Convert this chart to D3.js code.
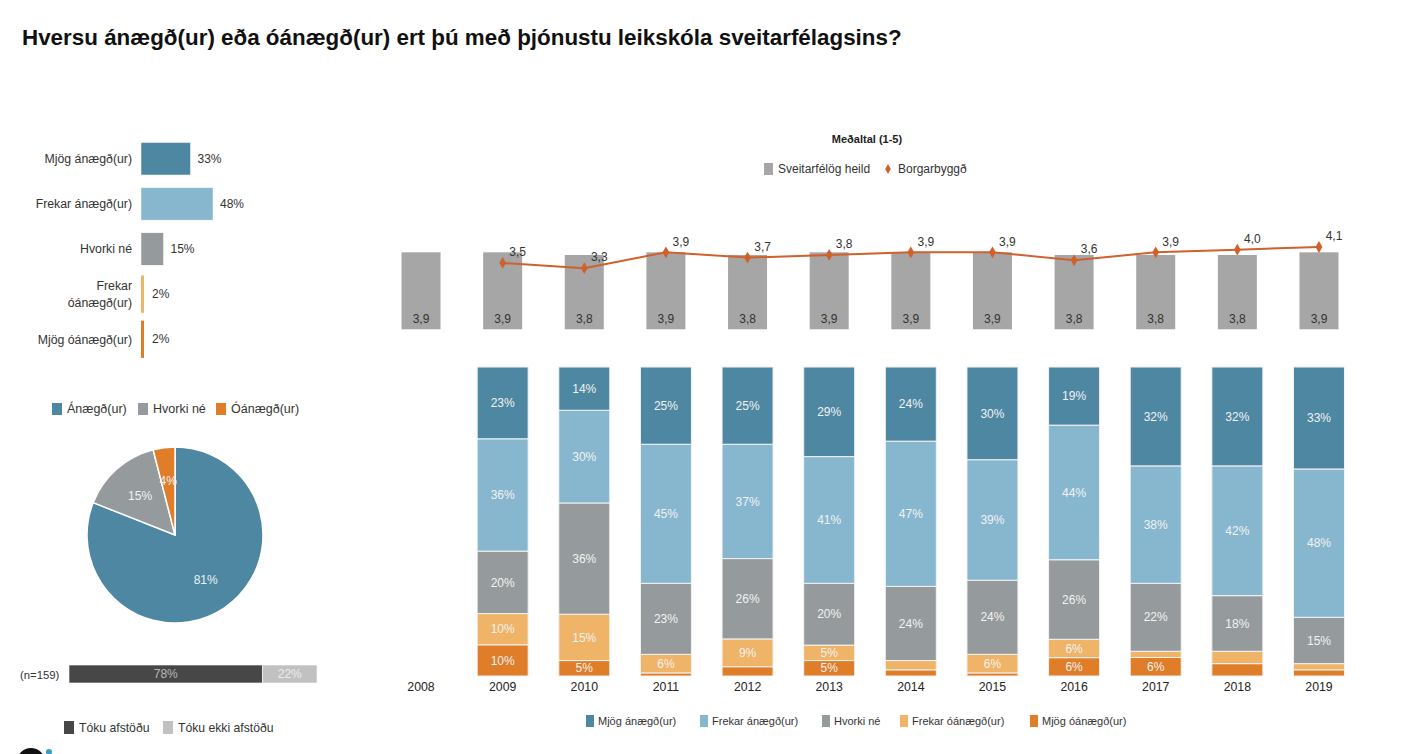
<!DOCTYPE html>
<html><head><meta charset="utf-8">
<script src="https://cdn.jsdelivr.net/npm/d3@7"></script>
<style>
body{margin:0;background:#fff;overflow:hidden;}
svg{display:block;font-family:"Liberation Sans",Arial,sans-serif;}
</style></head>
<body><svg id="c" width="1412" height="754"></svg>
<script>
// ---------- DATA ----------
const titleText = "Hversu ánægð(ur) eða óánægð(ur) ert þú með þjónustu leikskóla sveitarfélagsins?";

const catLabels = [["Mjög ánægð(ur)"],["Frekar ánægð(ur)"],["Hvorki né"],["Frekar","óánægð(ur)"],["Mjög óánægð(ur)"]];
const catValues = [33,48,15,2,2];

const pieLabels = ["Ánægð(ur)","Hvorki né","Óánægð(ur)"];
const pieValues = [81,15,4];

const respLabels = ["Tóku afstöðu","Tóku ekki afstöðu"];
const respValues = [78,22];
const nText = "(n=159)";

const years = ["2008","2009","2010","2011","2012","2013","2014","2015","2016","2017","2018","2019"];
const meanAll  = [3.9,3.9,3.8,3.9,3.8,3.9,3.9,3.9,3.8,3.8,3.8,3.9];
const meanBorg = [null,3.5,3.3,3.9,3.7,3.8,3.9,3.9,3.6,3.9,4.0,4.1];
const meanLegend = ["Sveitarfélög heild","Borgarbyggð"];

const stackYears = ["2009","2010","2011","2012","2013","2014","2015","2016","2017","2018","2019"];
const seriesNames = ["Mjög ánægð(ur)","Frekar ánægð(ur)","Hvorki né","Frekar óánægð(ur)","Mjög óánægð(ur)"];
const mjogAnaegd    = [23,14,25,25,29,24,30,19,32,32,33];
const frekarAnaegd  = [36,30,45,37,41,47,39,44,38,42,48];
const hvorkiNe      = [20,36,23,26,20,24,24,26,22,18,15];
const frekarOanaegd = [10,15,6,9,5,3,6,6,2,4,2];
const mjogOanaegd   = [10,5,1,3,5,2,1,6,6,4,2];

// ---------- STYLE ----------
const cDarkBlue="#4d87a2", cLightBlue="#86b7ce", cGray="#959b9c", cLightOr="#efb467", cDarkOr="#e07d28";
const catColors=[cDarkBlue,cLightBlue,cGray,cLightOr,cDarkOr];
const svg=d3.select("#c");

svg.append("text").attr("x",22).attr("y",45).attr("font-size",22.4).attr("font-weight","bold").attr("fill","#111").text(titleText);

// ---------- Top-left horizontal bars ----------
const xH=d3.scaleLinear().domain([0,100]).range([141,291]);
const yH=d3.scaleBand().domain(d3.range(5)).range([137,359]).paddingInner(0.28).paddingOuter(0.1);
const gH=svg.append("g");
catValues.forEach((v,i)=>{
  const bh = v<5 ? yH.bandwidth()*1.15 : yH.bandwidth();
  const yc=yH(i)+yH.bandwidth()/2+1;
  gH.append("rect").attr("x",xH(0)).attr("y",yc-bh/2).attr("width",Math.max(2,xH(v)-xH(0))).attr("height",bh)
    .attr("fill",catColors[i]).attr("stroke",v<5?"none":"#fff").attr("stroke-width",0.5);
  gH.append("text").attr("x",xH(v)+(v<5?8:7)).attr("y",yc).attr("dy","0.35em").attr("font-size",12).attr("fill","#333").text(v+"%");
  const lines=catLabels[i];
  lines.forEach((l,j)=>{
    gH.append("text").attr("x",132).attr("y",yc+(j-(lines.length-1)/2)*17).attr("dy","0.35em")
      .attr("text-anchor","end").attr("font-size",12.3).attr("fill","#333").text(l);
  });
});

// ---------- Pie ----------
const pieColors=[cDarkBlue,cGray,cDarkOr];
const pieLeg=svg.append("g");
const pieLegX=[52,138,216];
pieLabels.forEach((l,i)=>{
  pieLeg.append("rect").attr("x",pieLegX[i]).attr("y",403).attr("width",10).attr("height",12).attr("fill",pieColors[i]);
  pieLeg.append("text").attr("x",pieLegX[i]+15).attr("y",409).attr("dy","0.35em").attr("font-size",12.5).attr("fill","#333").text(l);
});
const pie=d3.pie().sort(null).value(d=>d)(pieValues);
const R=88;
const arc=d3.arc().innerRadius(0).outerRadius(R);
const gP=svg.append("g").attr("transform","translate(175,535)");
gP.selectAll("path").data(pie).join("path").attr("d",arc).attr("fill",(d,i)=>pieColors[i]).attr("stroke","#fff").attr("stroke-width",1.5);
const labArc=[d3.arc().innerRadius(R*0.62).outerRadius(R*0.62),d3.arc().innerRadius(R*0.6).outerRadius(R*0.6),d3.arc().innerRadius(R*0.62).outerRadius(R*0.62)];
gP.selectAll("text").data(pie).join("text").attr("transform",(d,i)=>`translate(${labArc[i].centroid(d)})`)
  .attr("text-anchor","middle").attr("dy","0.35em").attr("font-size",12).attr("fill","#eef2f4").text(d=>d.data+"%");

// ---------- Response bar ----------
const xR=d3.scaleLinear().domain([0,100]).range([69,317]);
const respColors=["#474747","#c1c1c1"];
let acc=0;
respValues.forEach((v,i)=>{
  svg.append("rect").attr("x",xR(acc)).attr("y",665).attr("width",xR(acc+v)-xR(acc)).attr("height",18).attr("fill",respColors[i]).attr("stroke","#fff").attr("stroke-width",0.6);
  svg.append("text").attr("x",(xR(acc)+xR(acc+v))/2).attr("y",674).attr("dy","0.35em").attr("text-anchor","middle").attr("font-size",12)
    .attr("fill",i===0?"#b8b8b8":"#ececec").text(v+"%");
  acc+=v;
});
svg.append("text").attr("x",20).attr("y",675).attr("dy","0.35em").attr("font-size",11.3).attr("fill","#333").text(nText);
const respLegX=[64,163];
respLabels.forEach((l,i)=>{
  svg.append("rect").attr("x",respLegX[i]).attr("y",721).attr("width",10).attr("height",13).attr("fill",respColors[i]);
  svg.append("text").attr("x",respLegX[i]+15).attr("y",728).attr("dy","0.35em").attr("font-size",12.2).attr("fill","#333").text(l);
});
// logo fragment
svg.append("path").attr("d",d3.arc().innerRadius(8).outerRadius(14).startAngle(-Math.PI/2).endAngle(Math.PI/2)()).attr("transform","translate(31,762)").attr("fill","#111");
svg.append("circle").attr("cx",49).attr("cy",752).attr("r",3).attr("fill","#3a9bc4");

// ---------- Top right: means ----------
const xS=d3.scaleBand().domain(years).range([380,1360]).paddingInner(0.375).paddingOuter(0.19);
const yM=d3.scaleLinear().domain([1,5]).range([329.3,223.1]);
svg.append("text").attr("x",867).attr("y",139).attr("dy","0.35em").attr("text-anchor","middle").attr("font-size",11).attr("font-weight","bold").attr("fill","#222").text("Meðaltal (1-5)");
svg.append("rect").attr("x",764).attr("y",163).attr("width",9).attr("height",12).attr("fill","#a6a6a6");
svg.append("text").attr("x",778).attr("y",169).attr("dy","0.35em").attr("font-size",12).attr("fill","#333").text(meanLegend[0]);
svg.append("path").attr("d",d3.symbol(d3.symbolDiamond,28)()).attr("transform","translate(888,169)").attr("fill","#d0602c");
svg.append("text").attr("x",898).attr("y",169).attr("dy","0.35em").attr("font-size",12).attr("fill","#333").text(meanLegend[1]);

const cx=y=>xS(y)+xS.bandwidth()/2;
const gM=svg.append("g");
years.forEach((y,i)=>{
  const bw=39;
  gM.append("rect").attr("x",cx(y)-bw/2).attr("y",yM(meanAll[i])).attr("width",bw).attr("height",yM(1)-yM(meanAll[i])).attr("fill","#a6a6a6");
  gM.append("text").attr("x",cx(y)).attr("y",319).attr("dy","0.35em").attr("text-anchor","middle").attr("font-size",12).attr("fill","#333")
    .text(meanAll[i].toFixed(1).replace(".",","));
});
const borg=years.map((y,i)=>({y,v:meanBorg[i]})).filter(d=>d.v!=null);
gM.append("path").datum(borg).attr("d",d3.line().x(d=>cx(d.y)).y(d=>yM(d.v))).attr("fill","none").attr("stroke","#d0602c").attr("stroke-width",2);
gM.selectAll(".dm").data(borg).join("path").attr("d",d3.symbol(d3.symbolDiamond,40)()).attr("transform",d=>`translate(${cx(d.y)},${yM(d.v)})`).attr("fill","#d0602c");
gM.selectAll(".lb").data(borg).join("text").attr("x",d=>cx(d.y)+15).attr("y",d=>yM(d.v)-11).attr("dy","0.35em").attr("text-anchor","middle")
  .attr("font-size",12).attr("fill","#333").text(d=>d.v.toFixed(1).replace(".",","));

// ---------- Stacked bars ----------
const cols=[mjogOanaegd,frekarOanaegd,hvorkiNe,frekarAnaegd,mjogAnaegd];
const keys=[4,3,2,1,0];
const rows=stackYears.map((y,i)=>{const o={year:y};keys.forEach((k,j)=>o[k]=cols[j][i]);return o;});
const stacked=d3.stack().keys(keys).offset(d3.stackOffsetExpand)(rows);
const yS=d3.scaleLinear().domain([0,1]).range([676,367]);
const gS=svg.append("g");
stacked.forEach(s=>{
  const k=s.key;
  s.forEach(d=>{
    const v=d.data[k];
    const x0=cx(d.data.year)-25.5;
    gS.append("rect").attr("x",x0).attr("y",yS(d[1])).attr("width",51).attr("height",yS(d[0])-yS(d[1]))
      .attr("fill",catColors[k]).attr("stroke","#f3f3f3").attr("stroke-width",1);
    if(v>=5){
      gS.append("text").attr("x",cx(d.data.year)).attr("y",(yS(d[0])+yS(d[1]))/2).attr("dy","0.35em").attr("text-anchor","middle")
        .attr("font-size",12).attr("fill","#f2f2f2").text(v+"%");
    }
  });
});
// axis labels
const xAxis=d3.axisBottom(xS).tickSize(0).tickPadding(0);
const ax=svg.append("g").attr("transform","translate(0,682)").call(xAxis);
ax.select(".domain").remove();
ax.selectAll("text").attr("font-size",12.3).attr("fill","#222").attr("font-family","Liberation Sans, Arial, sans-serif").attr("dy","0.71em");

// legend bottom
const legX=[586,700,822,900,1030];
seriesNames.forEach((n,i)=>{
  svg.append("rect").attr("x",legX[i]).attr("y",715).attr("width",8).attr("height",12).attr("fill",catColors[i]);
  svg.append("text").attr("x",legX[i]+12).attr("y",721).attr("dy","0.35em").attr("font-size",11).attr("fill","#333").text(n);
});
</script></body></html>
